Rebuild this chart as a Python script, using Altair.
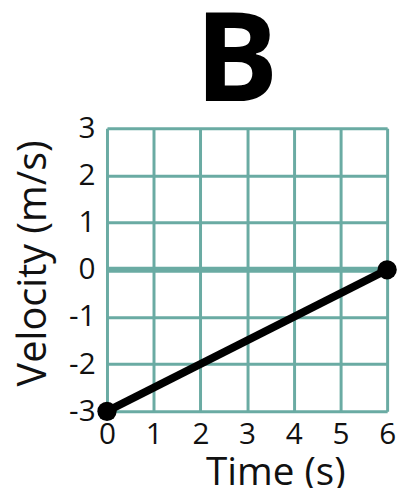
import altair as alt
import pandas as pd

# data
time_s = [0, 6]
velocity = [-3, 0]
zero_level = [0]
x_ticks = [0, 1, 2, 3, 4, 5, 6]
y_ticks = [-3, -2, -1, 0, 1, 2, 3]
panel_label = ["B"]

GRID = "#6aaba3"
BG = "#e9eeee"
FONT = "Open Sans"

df = pd.DataFrame({"t": time_s, "v": velocity})
df_zero = pd.DataFrame({"v": zero_level})
df_label = pd.DataFrame({"label": panel_label})

x_enc = alt.X(
    "t:Q",
    scale=alt.Scale(domain=[0, 6], nice=False, zero=False),
    axis=alt.Axis(
        values=x_ticks, title="Time (s)", grid=True, domain=False, ticks=False,
        labelFontSize=30, labelPadding=9, labelColor="#111", labelFont=FONT,
        labelExpr="datum.value + ''",
        titleFontSize=39, titleFont=FONT, titleFontWeight="normal", titleColor="#111",
        titleX=170, titleY=74, titleBaseline="alphabetic", titleAnchor="middle",
        gridColor=GRID, gridWidth=3, gridOpacity=1, labelFlush=False,
    ),
)
y_enc = alt.Y(
    "v:Q",
    scale=alt.Scale(domain=[-3, 3], nice=False, zero=False),
    axis=alt.Axis(
        values=y_ticks, title="Velocity (m/s)", grid=True, domain=False, ticks=False,
        labelFontSize=30, labelPadding=12, labelColor="#111", labelFont=FONT,
        labelExpr="datum.value + ''",
        titleFontSize=40, titleFont=FONT, titleFontWeight="normal", titleColor="#111",
        titleX=-62, titleY=136, titleBaseline="alphabetic",
        gridColor=GRID, gridWidth=3, gridOpacity=1, labelFlush=False,
    ),
)

zero = alt.Chart(df_zero).mark_rule(color=GRID, strokeWidth=6).encode(
    y=alt.Y("v:Q", scale=alt.Scale(domain=[-3, 3], nice=False, zero=False)),
    x=alt.value(0), x2=alt.value(283),
)
line = alt.Chart(df).mark_line(color="#000", strokeWidth=8, clip=False).encode(x=x_enc, y=y_enc)
pts = alt.Chart(df).mark_circle(color="#000", size=380, opacity=1, clip=False).encode(x=x_enc, y=y_enc)
label = alt.Chart(df_label).mark_text(
    font=FONT, fontSize=126, fontWeight="bold", color="#000",
    align="center", baseline="alphabetic", clip=False,
).encode(text="label:N", x=alt.value(131), y=alt.value(-27))

chart = (
    alt.layer(zero, line, pts, label)
    .properties(
        width=283, height=286,
        padding={"left": 100, "top": 119, "right": 12, "bottom": 75},
        autosize=alt.AutoSizeParams(type="none"),
    )
    .configure_view(fill=BG, stroke=GRID, strokeWidth=3)
    .configure(background="white")
)

chart.save("out.html", embed_options={"renderer": "svg", "actions": False})
